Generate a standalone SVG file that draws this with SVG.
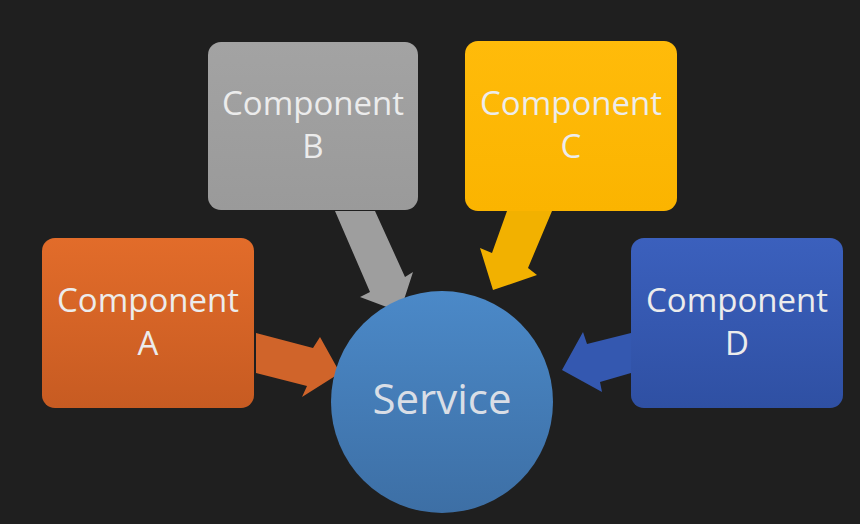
<svg xmlns="http://www.w3.org/2000/svg" width="860" height="524" viewBox="0 0 860 524">
<defs>
<linearGradient id="gA" x1="0" y1="0" x2="0" y2="1"><stop offset="0" stop-color="#e26c2a"/><stop offset="1" stop-color="#c75b22"/></linearGradient>
<linearGradient id="gB" x1="0" y1="0" x2="0" y2="1"><stop offset="0" stop-color="#a3a3a3"/><stop offset="1" stop-color="#9a9a9a"/></linearGradient>
<linearGradient id="gC" x1="0" y1="0" x2="0" y2="1"><stop offset="0" stop-color="#ffbb0a"/><stop offset="1" stop-color="#fbb400"/></linearGradient>
<linearGradient id="gD" x1="0" y1="0" x2="0" y2="1"><stop offset="0" stop-color="#3b60bd"/><stop offset="1" stop-color="#2f50a3"/></linearGradient>
<linearGradient id="gS" x1="0" y1="0" x2="0" y2="1"><stop offset="0" stop-color="#4b89c8"/><stop offset="1" stop-color="#3d6fa5"/></linearGradient>
<style>
.lbl{font-family:"Open Sans","DejaVu Sans",sans-serif;font-size:33px;fill:#ececec;text-anchor:middle}
.svc{font-family:"Open Sans","DejaVu Sans",sans-serif;font-size:42px;fill:#d9dee6;text-anchor:middle}
</style>
</defs>
<rect x="0" y="0" width="860" height="524" fill="#1f1f1f"/>
<g id="connectors">
<polygon points="256,333 313,348 320,337 340,373 302,397 307,386 256,373" fill="#d0642a"/>
<polygon points="335,211 375,211 405,277 413,272 400,312 360,297 370,292" fill="#9e9e9e"/>
<polygon points="507,211 552,211 528,268 537,275 493,290 480,248 492,253" fill="#f2b100"/>
<polygon points="631,333 587,344 583,332 562,370 602,392 600,382 631,373" fill="#3458b0"/>
</g>
<g id="nodeA"><rect x="42" y="238" width="212" height="170" rx="13" fill="url(#gA)"/>
<text class="lbl" x="148" y="312">Component</text><text class="lbl" x="148" y="355">A</text></g>
<g id="nodeB"><rect x="208" y="42" width="210" height="168" rx="13" fill="url(#gB)"/>
<text class="lbl" x="313" y="115">Component</text><text class="lbl" x="313" y="158">B</text></g>
<g id="nodeC"><rect x="465" y="41" width="212" height="170" rx="13" fill="url(#gC)"/>
<text class="lbl" x="571" y="115">Component</text><text class="lbl" x="571" y="158">C</text></g>
<g id="nodeD"><rect x="631" y="238" width="212" height="170" rx="13" fill="url(#gD)"/>
<text class="lbl" x="737" y="312">Component</text><text class="lbl" x="737" y="355">D</text></g>
<g id="service"><circle cx="442" cy="402" r="111" fill="url(#gS)"/>
<text class="svc" x="442" y="414">Service</text></g>
</svg>
